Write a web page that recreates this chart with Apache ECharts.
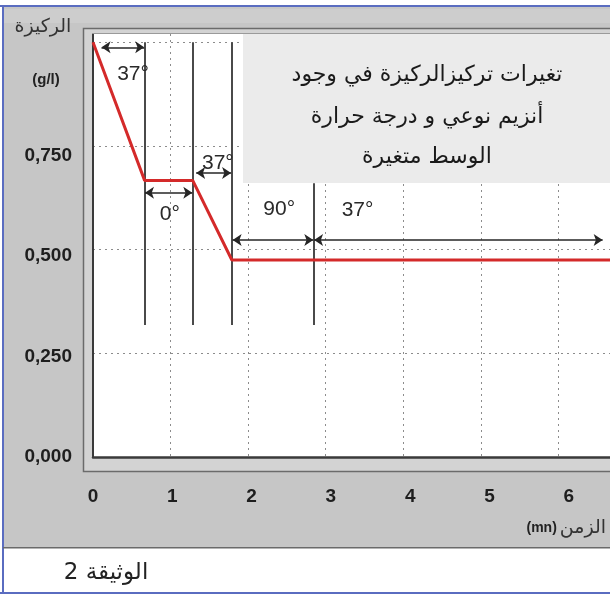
<!DOCTYPE html>
<html>
<head>
<meta charset="utf-8">
<script src="https://cdn.jsdelivr.net/npm/echarts@6/dist/echarts.min.js"></script>
<style>
html,body{margin:0;padding:0;background:#fff;}
#chart{width:610px;height:594px;}
</style>
</head>
<body>
<div id="chart"></div>
<script>
// ---- data ----
const timeMin   = [0, 0.665, 1.285, 1.79, 7];          // time (mn)
const substrate = [1.0, 0.667, 0.667, 0.475, 0.475];   // substrate concentration (g/l)

const markerTimes  = [0.665, 1.285, 1.79, 2.845];       // vertical separators (mn)
const markerTop    = [1.0, 1.0, 1.0, 0.66];
const markerBottom = [0.318, 0.318, 0.318, 0.318];

const arrowFrom  = [0.11, 0.67, 1.33, 1.80, 2.85];
const arrowTo    = [0.66, 1.28, 1.78, 2.84, 6.57];
const arrowLevel = [0.988, 0.637, 0.685, 0.523, 0.523];

const tempLabels = ['37°', '0°', '37°', '90°', '37°'];
const tempX      = [0.516, 0.99, 1.61, 2.40, 3.41];
const tempY      = [0.922, 0.585, 0.708, 0.598, 0.594];

const xTickLabels = ['0', '1', '2', '3', '4', '5', '6'];
const yTickLabels = ['0,000', '0,250', '0,500', '0,750'];

const titleLines = ['تغيرات تركيزالركيزة في وجود', 'أنزيم نوعي و درجة حرارة', 'الوسط متغيرة'];
const yTitle = 'الركيزة';
const yUnit = '(g/l)';
const xTitle = 'الزمن';
const xUnit = '(mn)';
const caption = 'الوثيقة 2';

// ---- chart ----
const chart = echarts.init(document.getElementById('chart'), null, {renderer: 'canvas'});
const NARROW = "'Liberation Sans Narrow', 'Liberation Sans', Arial, sans-serif";
const ARABIC = "'DejaVu Sans', sans-serif";

const GRID = {left: 93, top: 34, width: 543, height: 423};

const option = {
  backgroundColor: '#ffffff',
  animation: false,
  grid: {left: GRID.left, top: GRID.top, width: GRID.width, height: GRID.height,
         outerBoundsMode: 'none', containLabel: false,
         show: true, backgroundColor: '#ffffff', borderWidth: 0},
  xAxis: [
    {type: 'value', min: 0, max: 7, interval: 1, position: 'bottom',
     axisLine: {show: true, onZero: false, lineStyle: {color: '#3a3a3a', width: 2.5}},
     axisTick: {show: false}, axisLabel: {show: false},
     splitLine: {show: true, showMinLine: false, showMaxLine: false,
                 lineStyle: {color: '#8c8c8c', type: [2, 4], width: 1}}},
    {type: 'value', min: 0, max: GRID.width / 79.3, interval: 1, position: 'bottom',
     axisLine: {show: false}, axisTick: {show: false}, splitLine: {show: false},
     axisLabel: {show: true, margin: 30, showMaxLabel: false, color: '#1e1e1e',
                 fontFamily: NARROW, fontWeight: 'bold', fontSize: 19,
                 formatter: v => {const i = Math.round(v); return Math.abs(v - i) < 1e-6 && i < xTickLabels.length ? xTickLabels[i] : '';}}}
  ],
  yAxis: [
    {type: 'value', min: 0, max: 1.02, interval: 0.25, position: 'left',
     axisLine: {show: true, onZero: false, lineStyle: {color: '#3a3a3a', width: 2}},
     axisTick: {show: false}, axisLabel: {show: false},
     splitLine: {show: true, showMinLine: false, showMaxLine: false,
                 lineStyle: {color: '#8c8c8c', type: [2, 4], width: 1}}},
    {type: 'value', min: 0, max: GRID.height / 402, interval: 0.25, position: 'left',
     axisLine: {show: false}, axisTick: {show: false}, splitLine: {show: false},
     axisLabel: {show: true, margin: 21, showMaxLabel: false, color: '#1e1e1e',
                 fontFamily: NARROW, fontWeight: 'bold', fontSize: 19,
                 formatter: v => {const i = Math.round(v / 0.25); return Math.abs(v - i * 0.25) < 1e-6 && i < yTickLabels.length ? yTickLabels[i] : '';}}}
  ],
  series: [
    {type: 'lines', coordinateSystem: 'cartesian2d', xAxisIndex: 0, yAxisIndex: 0, z: 3,
     symbol: 'none', silent: true,
     lineStyle: {color: '#4a4a4a', width: 2, opacity: 1},
     data: markerTimes.map((t, i) => ({coords: [[t, markerTop[i]], [t, markerBottom[i]]]}))},
    {type: 'lines', coordinateSystem: 'cartesian2d', xAxisIndex: 0, yAxisIndex: 0, z: 4,
     symbol: ['arrow', 'arrow'], symbolSize: 9, silent: true,
     lineStyle: {color: '#262626', width: 1.6, opacity: 1},
     data: arrowFrom.map((a, i) => ({coords: [[a, arrowLevel[i]], [arrowTo[i], arrowLevel[i]]]}))},
    {type: 'line', xAxisIndex: 0, yAxisIndex: 0, z: 5, symbol: 'none', silent: true,
     lineStyle: {color: '#d42a2a', width: 3},
     data: timeMin.map((t, i) => [t, substrate[i]])},
    {type: 'scatter', xAxisIndex: 0, yAxisIndex: 0, z: 6, symbolSize: 0, silent: true,
     itemStyle: {opacity: 1},
     label: {show: true, position: 'inside', color: '#2a2a2a', fontSize: 21, opacity: 1,
             fontFamily: "'Liberation Sans', Arial, sans-serif",
             textBorderWidth: 0,
             formatter: p => tempLabels[p.dataIndex]},
     data: tempX.map((x, i) => [x, tempY[i]])}
  ],
  graphic: {elements: [
    {type: 'rect', z: -20, shape: {x: 3, y: 7, width: 607, height: 541}, style: {fill: '#c6c6c6'}},
    {type: 'rect', z: -19, shape: {x: 3, y: 9, width: 607, height: 14}, style: {fill: '#cdcdcd'}},
    {type: 'rect', z: -19, shape: {x: 0, y: 5, width: 610, height: 2}, style: {fill: '#5a6cc0'}},
    {type: 'rect', z: -19, shape: {x: 2, y: 5, width: 2, height: 589}, style: {fill: '#5a6cc0'}},
    {type: 'rect', z: -19, shape: {x: 0, y: 592, width: 610, height: 2}, style: {fill: '#5a6cc0'}},
    {type: 'rect', z: -19, shape: {x: 3, y: 547, width: 607, height: 1.5}, style: {fill: '#6a6a6a'}},
    {type: 'rect', z: -18, shape: {x: 83.5, y: 28.5, width: 600, height: 443},
     style: {fill: '#d3d3d3', stroke: '#6b6b6b', lineWidth: 1.5}},
    {type: 'line', z: 1, shape: {x1: 92, y1: 33.5, x2: 610, y2: 33.5}, style: {stroke: '#9a9a9a', lineWidth: 1}},
    {type: 'rect', z: 50, shape: {x: 243, y: 34, width: 400, height: 149}, style: {fill: '#ebebeb'}},
    {type: 'text', z: 51, x: 427, y: 75, style: {text: titleLines[0], textAlign: 'center', textVerticalAlign: 'middle', font: '22px ' + ARABIC, fill: '#1a1a1a'}},
    {type: 'text', z: 51, x: 427, y: 117, style: {text: titleLines[1], textAlign: 'center', textVerticalAlign: 'middle', font: '22px ' + ARABIC, fill: '#1a1a1a'}},
    {type: 'text', z: 51, x: 427, y: 157, style: {text: titleLines[2], textAlign: 'center', textVerticalAlign: 'middle', font: '22px ' + ARABIC, fill: '#1a1a1a'}},
    {type: 'text', z: 51, x: 43, y: 27, style: {text: yTitle, textAlign: 'center', textVerticalAlign: 'middle', font: '19px ' + ARABIC, fill: '#333'}},
    {type: 'text', z: 51, x: 46, y: 80, style: {text: yUnit, textAlign: 'center', textVerticalAlign: 'middle', font: 'bold 15px ' + NARROW, fill: '#222'}},
    {type: 'text', z: 51, x: 606, y: 528, style: {
      text: '{u|' + xUnit + '}{t|' + xTitle + '}', textAlign: 'right', textVerticalAlign: 'middle',
      rich: {u: {font: 'bold 14px ' + NARROW, fill: '#222', padding: [0, 3, 0, 0]}, t: {font: '19px ' + ARABIC, fill: '#333'}}}},
    {type: 'text', z: 51, x: 106, y: 573, style: {text: caption, textAlign: 'center', textVerticalAlign: 'middle', font: '23px ' + ARABIC, fill: '#222'}}
  ]}
};
chart.setOption(option);
</script>
</body>
</html>
